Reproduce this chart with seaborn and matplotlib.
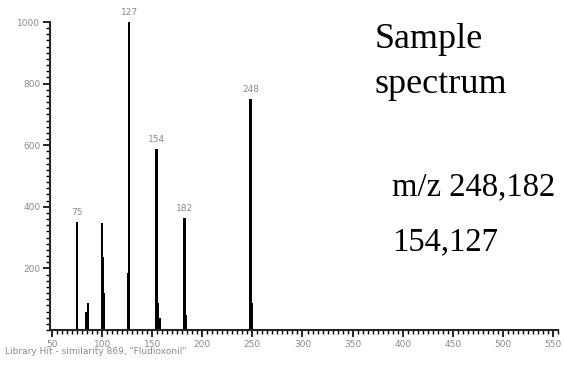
import matplotlib
matplotlib.use("Agg")
import matplotlib.pyplot as plt
import seaborn as sns
import numpy as np
from matplotlib.ticker import MultipleLocator, FixedLocator

# peak positions (m/z) and abundances
mz = [75, 84, 86, 100, 101, 102, 126, 127, 154, 155, 157, 182, 183, 248, 249]
abundance = [352, 58, 88, 348, 238, 120, 185, 1000, 588, 89, 39, 364, 49, 751, 88]
labelled = [75, 127, 154, 182, 248]
y_ticks = [200, 400, 600, 800, 1000]
x_ticks = [50, 100, 150, 200, 250, 300, 350, 400, 450, 500, 550]

sns.set_style("ticks")

fig = plt.figure(figsize=(5.64, 3.74), dpi=100)
ax = fig.add_axes([50 / 564, 44 / 374, 508 / 564, 308 / 374])

sns.barplot(x=mz, y=abundance, native_scale=True, width=2.6,
            color="black", saturation=1, linewidth=0, ax=ax)

# peak labels
for m, a in zip(mz, abundance):
    if m in labelled:
        ax.text(m, a + 15, str(m), ha="center", va="bottom",
                fontsize=6.5, color="#8a8a8a")

ax.set_xlim(48, 555)
ax.set_ylim(0, 1000)
ax.xaxis.set_major_locator(FixedLocator(x_ticks))
ax.xaxis.set_minor_locator(MultipleLocator(5))
ax.yaxis.set_major_locator(FixedLocator(y_ticks))
ax.yaxis.set_minor_locator(MultipleLocator(20))
ax.tick_params(which="major", length=5, width=1.2, colors="black",
               labelcolor="#8a8a8a", labelsize=6.5, pad=2)
ax.tick_params(which="minor", length=3, width=1.0, colors="black")
ax.set_xlabel("")
ax.set_ylabel("")
for s in ["left", "bottom"]:
    ax.spines[s].set_linewidth(1.5)
sns.despine(ax=ax)

fig.text(5 / 564, 1 - 352 / 374, 'Library Hit - similarity 869, "Fludioxonil"',
         ha="left", va="center", fontsize=6.5, color="#8a8a8a")

serif = ["Liberation Serif", "DejaVu Serif"]
fig.text(375 / 564, 1 - 48 / 374, "Sample", family=serif, fontsize=26,
         ha="left", va="baseline", color="black")
fig.text(375 / 564, 1 - 93 / 374, "spectrum", family=serif, fontsize=26,
         ha="left", va="baseline", color="black")
fig.text(392 / 564, 1 - 195 / 374, "m/z 248,182", family=serif, fontsize=23.5,
         ha="left", va="baseline", color="black")
fig.text(392 / 564, 1 - 250 / 374, "154,127", family=serif, fontsize=23.5,
         ha="left", va="baseline", color="black")

fig.savefig("out.png", dpi=100)
